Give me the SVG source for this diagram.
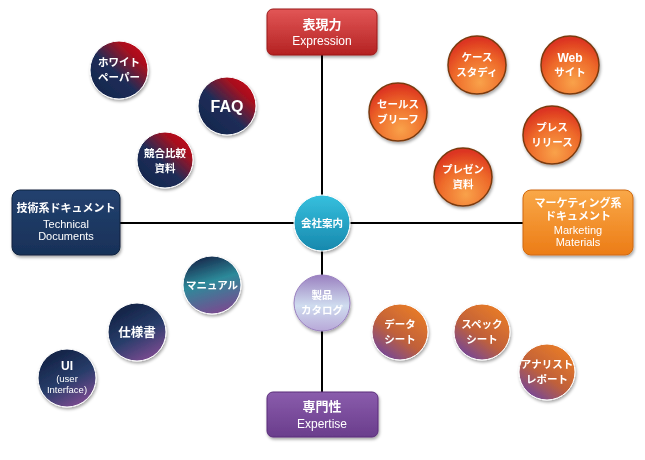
<svg xmlns="http://www.w3.org/2000/svg" width="645" height="460" viewBox="0 0 645 460">
<defs>
<style>
text{font-family:"Liberation Sans","Noto Sans CJK JP",sans-serif;fill:#fff;text-anchor:middle;font-weight:bold}
.t{font-size:13px}
.e{font-size:12px;font-weight:normal}
.c{font-size:10.5px}
.line{stroke:#000;stroke-width:2;fill:none}
.dk{fill:url(#gDark);stroke:#fff;stroke-width:1}
.or{fill:url(#gOr);stroke:#7a3a10;stroke-width:1.5}
.pn{fill:url(#gPn);stroke:#fff;stroke-width:1}
.br{fill:url(#gBr);stroke:#fff;stroke-width:1}
</style>
<filter id="sh" x="-20%" y="-20%" width="140%" height="150%"><feDropShadow dx="1" dy="2" stdDeviation="1.5" flood-color="#000" flood-opacity="0.35"/></filter>
<linearGradient id="gDark" x1="0.2" y1="0.85" x2="0.85" y2="0.15"><stop offset="0" stop-color="#16284f"/><stop offset="0.4" stop-color="#1e2d58"/><stop offset="0.85" stop-color="#a8101e"/><stop offset="1" stop-color="#b8101c"/></linearGradient>
<radialGradient id="gOr" cx="0.55" cy="0.8" r="0.75"><stop offset="0" stop-color="#f9a24a"/><stop offset="0.6" stop-color="#ee6a2a"/><stop offset="1" stop-color="#dc3420"/></radialGradient>
<linearGradient id="gPn" x1="0.3" y1="0.1" x2="0.75" y2="0.95"><stop offset="0" stop-color="#152549"/><stop offset="0.5" stop-color="#283d6a"/><stop offset="1" stop-color="#7a4a90"/></linearGradient>
<linearGradient id="gMan" x1="0.3" y1="0" x2="0.6" y2="1"><stop offset="0" stop-color="#152549"/><stop offset="0.45" stop-color="#2d8a9a"/><stop offset="1" stop-color="#7a4a90"/></linearGradient>
<linearGradient id="gBr" x1="0.8" y1="0.1" x2="0.2" y2="0.95"><stop offset="0" stop-color="#e67a28"/><stop offset="0.55" stop-color="#c0603a"/><stop offset="1" stop-color="#73479a"/></linearGradient>
<linearGradient id="gRed" x1="0" y1="0" x2="0" y2="1"><stop offset="0" stop-color="#e25656"/><stop offset="1" stop-color="#b42222"/></linearGradient>
<linearGradient id="gNavy" x1="0" y1="0" x2="0" y2="1"><stop offset="0" stop-color="#23416f"/><stop offset="1" stop-color="#183158"/></linearGradient>
<linearGradient id="gOrBox" x1="0" y1="0" x2="0" y2="1"><stop offset="0" stop-color="#f9a848"/><stop offset="1" stop-color="#ec7c16"/></linearGradient>
<linearGradient id="gPur" x1="0" y1="0" x2="0" y2="1"><stop offset="0" stop-color="#8a5cac"/><stop offset="1" stop-color="#6a3d8c"/></linearGradient>
<linearGradient id="gTeal" x1="0" y1="0" x2="0" y2="1"><stop offset="0" stop-color="#36c0de"/><stop offset="1" stop-color="#1788ad"/></linearGradient>
<linearGradient id="gCat" x1="0" y1="0" x2="0" y2="1"><stop offset="0" stop-color="#9a80c0"/><stop offset="0.55" stop-color="#cfdcef"/><stop offset="1" stop-color="#b8a8d8"/></linearGradient>
</defs>
<rect width="645" height="460" fill="#fff"/>
<g id="connectors">
<line class="line" x1="322" y1="55" x2="322" y2="392"/>
<line class="line" x1="120" y1="223" x2="523" y2="223"/>
</g>
<g id="expression" filter="url(#sh)"><rect x="267" y="9" width="110" height="46" rx="6" fill="url(#gRed)" stroke="#9a1a1a" stroke-width="1"/><text class="t" x="322" y="29">表現力</text><text class="e" x="322" y="45">Expression</text></g>
<g id="technical" filter="url(#sh)"><rect x="12" y="190" width="108" height="65" rx="8" fill="url(#gNavy)" stroke="#10223f" stroke-width="1"/><text x="66" y="212" style="font-size:11px">技術系ドキュメント</text><text class="e" x="66" y="228" style="font-size:11px">Technical</text><text class="e" x="66" y="240" style="font-size:11px">Documents</text></g>
<g id="marketing" filter="url(#sh)"><rect x="523" y="190" width="110" height="65" rx="8" fill="url(#gOrBox)" stroke="#d06a10" stroke-width="1"/><text x="578" y="207" style="font-size:11px">マーケティング系</text><text x="578" y="220" style="font-size:11px">ドキュメント</text><text class="e" x="578" y="234" style="font-size:11px">Marketing</text><text class="e" x="578" y="246" style="font-size:11px">Materials</text></g>
<g id="expertise" filter="url(#sh)"><rect x="267" y="392" width="111" height="45" rx="6" fill="url(#gPur)" stroke="#5a2d7a" stroke-width="1"/><text class="t" x="322" y="411">専門性</text><text class="e" x="322" y="428">Expertise</text></g>
<g id="company" filter="url(#sh)"><circle cx="322" cy="223" r="28" fill="url(#gTeal)" stroke="#fff" stroke-width="1"/><text class="c" x="322" y="227">会社案内</text></g>
<g id="catalog" filter="url(#sh)"><circle cx="322" cy="303" r="28" fill="url(#gCat)" stroke="#9a80c0" stroke-width="1"/><text class="c" x="322" y="299">製品</text><text class="c" x="322" y="314">カタログ</text></g>
<g id="whitepaper" filter="url(#sh)"><circle class="dk" cx="119" cy="70" r="29"/><text class="c" x="119" y="66">ホワイト</text><text class="c" x="119" y="81">ペーパー</text></g>
<g id="faq" filter="url(#sh)"><circle class="dk" cx="227" cy="106" r="29"/><text x="227" y="112" style="font-size:16px">FAQ</text></g>
<g id="compare" filter="url(#sh)"><circle class="dk" cx="165" cy="160" r="28"/><text class="c" x="165" y="157">競合比較</text><text class="c" x="165" y="172">資料</text></g>
<g id="casestudy" filter="url(#sh)"><circle class="or" cx="477" cy="65" r="29"/><text class="c" x="477" y="61">ケース</text><text class="c" x="477" y="76">スタディ</text></g>
<g id="website" filter="url(#sh)"><circle class="or" cx="570" cy="65" r="29"/><text x="570" y="62" style="font-size:12px">Web</text><text class="c" x="570" y="76">サイト</text></g>
<g id="salesbrief" filter="url(#sh)"><circle class="or" cx="398" cy="112" r="29"/><text class="c" x="398" y="108">セールス</text><text class="c" x="398" y="123">ブリーフ</text></g>
<g id="pressrelease" filter="url(#sh)"><circle class="or" cx="552" cy="135" r="29"/><text class="c" x="552" y="131">プレス</text><text class="c" x="552" y="146">リリース</text></g>
<g id="presentation" filter="url(#sh)"><circle class="or" cx="463" cy="177" r="29"/><text class="c" x="463" y="173">プレゼン</text><text class="c" x="463" y="188">資料</text></g>
<g id="manual" filter="url(#sh)"><circle cx="212" cy="285" r="29" fill="url(#gMan)" stroke="#fff" stroke-width="1"/><text class="c" x="212" y="289">マニュアル</text></g>
<g id="spec" filter="url(#sh)"><circle class="pn" cx="137" cy="332" r="29"/><text x="137" y="337" style="font-size:12.5px">仕様書</text></g>
<g id="ui" filter="url(#sh)"><circle class="pn" cx="67" cy="378" r="29"/><text x="67" y="370" style="font-size:12px">UI</text><text x="67" y="382" style="font-size:9.5px;font-weight:normal">(user</text><text x="67" y="393" style="font-size:9.5px;font-weight:normal">Interface)</text></g>
<g id="datasheet" filter="url(#sh)"><circle class="br" cx="400" cy="332" r="28"/><text class="c" x="400" y="328">データ</text><text class="c" x="400" y="343">シート</text></g>
<g id="specsheet" filter="url(#sh)"><circle class="br" cx="482" cy="332" r="28"/><text class="c" x="482" y="328">スペック</text><text class="c" x="482" y="343">シート</text></g>
<g id="analyst" filter="url(#sh)"><circle class="br" cx="547" cy="372" r="28"/><text class="c" x="547" y="368">アナリスト</text><text class="c" x="547" y="383">レポート</text></g>
</svg>
